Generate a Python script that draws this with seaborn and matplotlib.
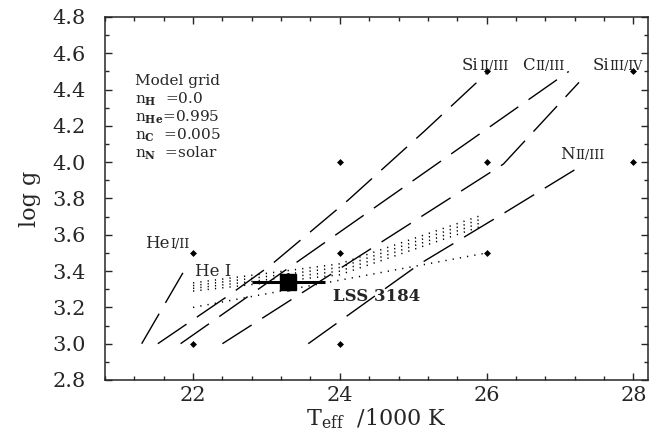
import matplotlib
matplotlib.use("Agg")
import matplotlib.pyplot as plt
from matplotlib.ticker import FormatStrFormatter, MultipleLocator
from matplotlib.transforms import offset_copy
import seaborn as sns

# model grid (Teff in 1000 K, log g)
grid_teff = [22, 22, 24, 24, 24, 26, 26, 26, 28, 28]
grid_logg = [3.0, 3.5, 3.0, 3.5, 4.0, 3.5, 4.0, 4.5, 4.0, 4.5]

# ionisation equilibria, dashed loci
hei_ii_teff = [21.30, 21.89]
hei_ii_logg = [3.00, 3.41]
si_ii_iii_teff = [21.52, 22.50, 23.05, 24.11, 25.15, 26.00]
si_ii_iii_logg = [3.00, 3.27, 3.43, 3.79, 4.17, 4.49]
c_ii_iii_teff = [21.83, 27.12]
c_ii_iii_logg = [3.00, 4.50]
si_iii_iv_teff = [22.40, 26.23, 27.26]
si_iii_iv_logg = [3.00, 3.99, 4.44]
n_ii_iii_teff = [23.57, 25.09, 26.28, 27.33]
n_ii_iii_logg = [3.00, 3.44, 3.73, 3.99]

# He I line fits, dotted band
hei_teff = [22.0, 24.0, 25.95]
hei_logg_1 = [3.335, 3.44, 3.71]
hei_logg_2 = [3.32, 3.42, 3.69]
hei_logg_3 = [3.305, 3.40, 3.67]
hei_logg_4 = [3.29, 3.38, 3.65]
hei_low_teff = [22.0, 26.0]
hei_low_logg = [3.20, 3.50]

# LSS 3184 result
star_teff, star_teff_err = 23.3, 0.5
star_logg, star_logg_err = 3.34, 0.05

model_lines = ["Model grid", r"n$_\mathbf{H}$  =0.0", r"n$_\mathbf{He}$=0.995",
               r"n$_\mathbf{C}$  =0.005", r"n$_\mathbf{N}$  =solar"]

SERIF = "DejaVu Serif"
sns.set_style("ticks")
plt.rcParams["font.family"] = [SERIF]
plt.rcParams["mathtext.fontset"] = "dejavuserif"

fig = plt.figure(figsize=(6.49, 4.47), dpi=100)
ax = fig.add_axes([105 / 649, 67 / 447, 543 / 649, 363 / 447])

dash = (25, 9)
for tx, lg in [(hei_ii_teff, hei_ii_logg), (si_ii_iii_teff, si_ii_iii_logg),
               (c_ii_iii_teff, c_ii_iii_logg), (si_iii_iv_teff, si_iii_iv_logg),
               (n_ii_iii_teff, n_ii_iii_logg)]:
    sns.lineplot(x=tx, y=lg, sort=False, estimator=None, color="black", lw=1.0, ax=ax)
    ax.lines[-1].set_dashes(dash)

for lg in [hei_logg_1, hei_logg_2, hei_logg_3, hei_logg_4]:
    sns.lineplot(x=hei_teff, y=lg, sort=False, estimator=None, color="black", lw=1.1, ax=ax)
    ax.lines[-1].set_dashes((0.8, 4))
sns.lineplot(x=hei_low_teff, y=hei_low_logg, sort=False, estimator=None, color="black", lw=1.1, ax=ax)
ax.lines[-1].set_dashes((0.8, 4))

sns.scatterplot(x=grid_teff, y=grid_logg, marker="D", s=9, color="black",
                edgecolor="black", linewidth=0.5, ax=ax, zorder=3)

ax.errorbar(star_teff, star_logg, xerr=star_teff_err, yerr=star_logg_err, fmt="s",
            ms=12, color="black", elinewidth=2.2, capsize=0, zorder=4)
ax.text(23.91, 3.26, "LSS 3184", fontsize=12, fontweight="bold", va="center", ha="left")

renderer = fig.canvas.get_renderer()


def ion_label(x, y, elem, stages, size=12):
    # element in normal caps, ionisation stages as small caps on the same baseline
    t = ax.text(x, y, elem, fontsize=size, va="baseline", ha="left")
    w = t.get_window_extent(renderer).width * 72 / fig.dpi
    trans = offset_copy(ax.transData, fig=fig, x=w + 0.5, y=0, units="points")
    ax.text(x, y, stages, fontsize=size * 0.75, va="baseline", ha="left", transform=trans)


ion_label(21.34, 3.53, "He", "I/II")
ion_label(25.66, 4.51, "Si", "II/III")
ion_label(26.48, 4.51, "C", "II/III")
ion_label(27.44, 4.51, "Si", "III/IV")
ion_label(27.00, 4.02, "N", "II/III")
ax.text(22.02, 3.40, "He I", fontsize=12, va="center", ha="left")

for i, line in enumerate(model_lines):
    ax.text(21.21, 4.447 - i * 0.1, line, fontsize=11, va="center", ha="left")

ax.set_xlim(20.8, 28.2)
ax.set_ylim(2.8, 4.8)
ax.xaxis.set_major_locator(MultipleLocator(2))
ax.xaxis.set_minor_locator(MultipleLocator(0.4))
ax.yaxis.set_major_locator(MultipleLocator(0.2))
ax.yaxis.set_minor_locator(MultipleLocator(0.1))
ax.yaxis.set_major_formatter(FormatStrFormatter("%.1f"))
ax.tick_params(which="both", direction="in", top=True, right=True, width=1.0)
ax.tick_params(which="major", length=5, labelsize=15)
ax.tick_params(which="minor", length=3)
ax.tick_params(axis="x", pad=4)
ax.tick_params(axis="y", pad=14)
for sp in ax.spines.values():
    sp.set_linewidth(1.1)
    sp.set_visible(True)

ax.set_xlabel(r"T$_\mathrm{eff}$  /1000 K", fontsize=16, labelpad=1)
ax.set_ylabel("log g", fontsize=16, labelpad=8)

fig.savefig("out.png", dpi=100)
